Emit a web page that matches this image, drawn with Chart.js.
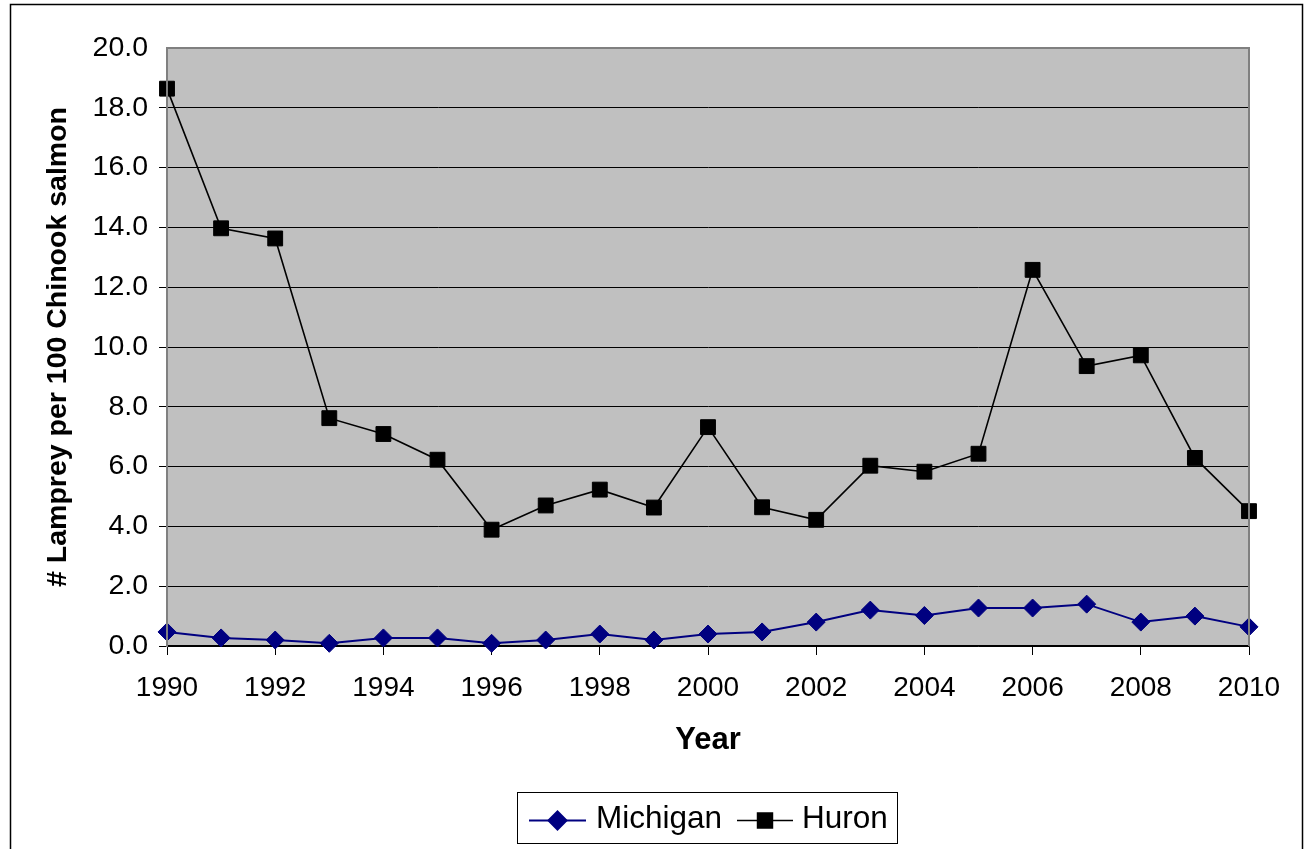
<!DOCTYPE html>
<html>
<head>
<meta charset="utf-8">
<script src="https://cdn.jsdelivr.net/npm/chart.js@4.4.0/dist/chart.umd.min.js"></script>
<style>
  html, body { margin: 0; padding: 0; background: #fff; }
  #wrap { position: relative; width: 1308px; height: 849px; }
</style>
</head>
<body>
<div id="wrap"><canvas id="myChart"></canvas></div>
<script>
const years = [1990, 1991, 1992, 1993, 1994, 1995, 1996, 1997, 1998, 1999, 2000,
  2001, 2002, 2003, 2004, 2005, 2006, 2007, 2008, 2009, 2010];
const michigan = [0.47, 0.27, 0.2, 0.09, 0.27, 0.27, 0.09, 0.2, 0.4, 0.2, 0.4,
  0.47, 0.8, 1.2, 1.02, 1.27, 1.27, 1.4, 0.8, 1.0, 0.64];
const huron = [18.64, 13.97, 13.63, 7.62, 7.09, 6.23, 3.89, 4.7, 5.23, 4.63, 7.32,
  4.64, 4.22, 6.03, 5.83, 6.43, 12.58, 9.36, 9.72, 6.29, 4.51];
const seriesNames = ['Michigan', 'Huron'];
const yTitle = '# Lamprey per 100 Chinook salmon';
const xTitle = 'Year';

const fontFamily = '"Liberation Sans", Arial, sans-serif';
const ctx = document.getElementById('myChart');

function toPoints(values) {
  return years.map((yr, i) => ({ x: yr, y: values[i] }));
}

// grey plot area + outer frame
const backgroundPlugin = {
  id: 'plotBg',
  beforeDraw(chart) {
    const c = chart.ctx;
    const a = chart.chartArea;
    c.save();
    c.fillStyle = '#C0C0C0';
    c.fillRect(a.left, a.top, a.right - a.left, a.bottom - a.top);
    c.restore();
  },
  afterDatasetsDraw(chart) {
    const c = chart.ctx;
    const a = chart.chartArea;
    c.save();
    c.strokeStyle = '#808080';
    c.lineWidth = 2;
    c.beginPath();
    c.moveTo(a.left, a.bottom);
    c.lineTo(a.left, a.top);
    c.lineTo(a.right, a.top);
    c.lineTo(a.right, a.bottom);
    c.stroke();
    c.restore();
  },
  afterDraw(chart) {
    const c = chart.ctx;
    c.save();
    c.strokeStyle = '#000';
    c.lineWidth = 1.5;
    c.strokeRect(10.5, 4.5, 1292, 900);
    c.restore();
  }
};

// Excel style legend: line + marker inside a box
const legendPlugin = {
  id: 'boxLegend',
  afterDraw(chart) {
    const c = chart.ctx;
    c.save();
    c.strokeStyle = '#000';
    c.lineWidth = 1;
    c.strokeRect(517.5, 792.5, 380, 51);
    const items = [
      { x0: 529, x1: 586, tx: 596 },
      { x0: 737, x1: 793, tx: 802 }
    ];
    const ly = 820.5;
    items.forEach((it, i) => {
      const ds = chart.data.datasets[i];
      c.strokeStyle = ds.borderColor;
      c.lineWidth = ds.borderWidth;
      c.beginPath();
      c.moveTo(it.x0, ly);
      c.lineTo(it.x1, ly);
      c.stroke();
      c.fillStyle = ds.pointBackgroundColor;
      c.strokeStyle = ds.pointBorderColor;
      Chart.helpers.drawPoint(c, {
        pointStyle: ds.pointStyle,
        radius: ds.pointRadius,
        borderWidth: 1,
        rotation: 0
      }, (it.x0 + it.x1) / 2, ly);
      c.fillStyle = '#000';
      c.font = '31.5px ' + fontFamily;
      c.textBaseline = 'alphabetic';
      c.textAlign = 'left';
      c.fillText(ds.label, it.tx, 828);
    });
    c.restore();
  }
};

const myChart = new Chart(ctx, {
  type: 'line',
  data: {
    datasets: [
      {
        label: seriesNames[0],
        data: toPoints(michigan),
        borderColor: '#000080',
        borderWidth: 2,
        pointStyle: 'rectRot',
        pointRadius: 9,
        pointHoverRadius: 9,
        pointBackgroundColor: '#000080',
        pointBorderColor: '#000080',
        pointBorderWidth: 1,
        tension: 0,
        clip: false
      },
      {
        label: seriesNames[1],
        data: toPoints(huron),
        borderColor: '#000000',
        borderWidth: 1.6,
        pointStyle: 'rect',
        pointRadius: 10.5,
        pointHoverRadius: 10.5,
        pointBackgroundColor: '#000000',
        pointBorderColor: '#000000',
        pointBorderWidth: 1,
        tension: 0,
        clip: false
      }
    ]
  },
  options: {
    responsive: true,
    maintainAspectRatio: false,
    devicePixelRatio: 1,
    animation: false,
    layout: {
      padding: { left: 20, right: 59, top: 48, bottom: 0 }
    },
    plugins: {
      legend: { display: false },
      tooltip: { enabled: false }
    },
    scales: {
      x: {
        type: 'linear',
        min: 1990,
        max: 2010,
        afterFit(scale) { scale.height = 849 - 646; },
        ticks: {
          stepSize: 2,
          color: '#000',
          padding: 16,
          maxRotation: 0,
          font: { family: fontFamily, size: 28 },
          callback: (v) => String(v)
        },
        grid: {
          drawOnChartArea: false,
          drawTicks: true,
          tickLength: 9,
          color: '#000',
          lineWidth: 1
        },
        border: { display: true, color: '#000', width: 1.5 },
        title: {
          display: true,
          text: xTitle,
          color: '#000',
          font: { family: fontFamily, size: 31, weight: 'bold' },
          padding: { top: 0, bottom: 90 }
        }
      },
      y: {
        min: 0,
        max: 20,
        afterFit(scale) { scale.width = 167 - 20; },
        ticks: {
          stepSize: 2,
          color: '#000',
          padding: 11,
          font: { family: fontFamily, size: 28.5 },
          callback: (v) => v.toFixed(1)
        },
        grid: {
          drawTicks: true,
          tickLength: 8,
          color: (c) => (c.tick && c.tick.value === 20 ? 'rgba(0,0,0,0)' : '#000'),
          lineWidth: 1
        },
        border: { display: true, color: '#808080', width: 2 },
        title: {
          display: true,
          text: yTitle,
          color: '#000',
          font: { family: fontFamily, size: 28.5, weight: 'bold' },
          padding: { top: 21, bottom: 0 }
        }
      }
    }
  },
  plugins: [backgroundPlugin, legendPlugin]
});
</script>
</body>
</html>
